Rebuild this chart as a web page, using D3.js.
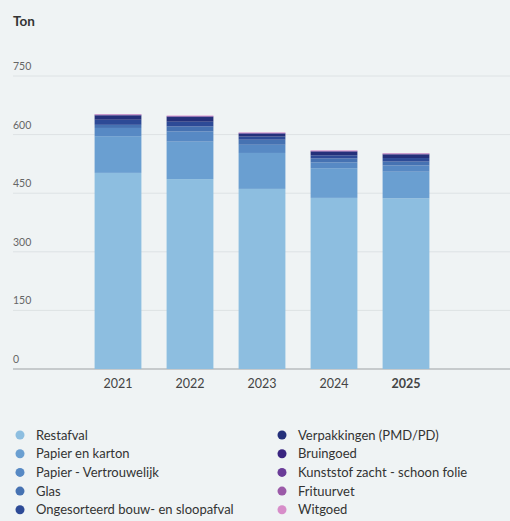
<!DOCTYPE html>
<html><head><meta charset="utf-8">
<script src="https://cdn.jsdelivr.net/npm/d3@7"></script>
<style>
html,body{margin:0;padding:0;background:#eff3f4;}
svg{display:block;font-family:Lato,"Noto Sans",sans-serif;}
</style></head>
<body><svg id="c" width="510" height="521"></svg>
<script>
const years = ["2021","2022","2023","2024","2025"];
const categories = ["Restafval","Papier en karton","Papier - Vertrouwelijk","Glas","Ongesorteerd bouw- en sloopafval","Verpakkingen (PMD/PD)","Bruingoed","Kunststof zacht - schoon folie","Frituurvet","Witgoed"];
const colors = ["#8dbee0","#6a9fd1","#5789c4","#4672b2","#2d4a96","#24307a","#3a2580","#6a3c98","#9b5aa8","#d78dc9"];
const restafval      = [502, 486, 461, 438, 437];
const papierKarton   = [ 94,  96,  92,  76,  68];
const vertrouwelijk  = [ 21,  26,  21,  15,  16];
const glas           = [  8,  13,  13,  10,  10];
const ongesorteerd   = [ 13,  12,   8,   8,   9];
const verpakkingen   = [ 11,  12,   7,   9,   9];
const bruingoed      = [  1,   1,   1,   1,   1];
const kunststof      = [  1,   1,   1,   1,   1];
const frituurvet     = [0.5, 0.5, 0.5, 0.5, 0.5];
const witgoed        = [1.2, 1.2, 1.2, 1.2, 1.2];
const yTicks = [0,150,300,450,600,750];
const seriesValues = [restafval,papierKarton,vertrouwelijk,glas,ongesorteerd,verpakkingen,bruingoed,kunststof,frituurvet,witgoed];

const svg = d3.select("#c");
const table = years.map((y,i)=>{const o={year:y}; categories.forEach((c,k)=>o[c]=seriesValues[k][i]); return o;});
const stack = d3.stack().keys(categories)(table);

const y = d3.scaleLinear().domain([0,750]).range([369,76]);
const x = d3.scaleBand().domain(years).range([82,442]).paddingInner(0.35).paddingOuter(0.175);

svg.append("text").attr("x",13).attr("y",26).attr("font-size",13.5).attr("font-weight",700).attr("fill","#333").text("Ton");

const grid = svg.append("g");
yTicks.forEach(t=>{
  grid.append("line").attr("x1",13).attr("x2",510).attr("y1",y(t)).attr("y2",y(t))
    .attr("stroke", t===0 ? "#b9bdbf" : "#dde2e4").attr("stroke-width", t===0?1.5:1);
  grid.append("text").attr("x",13).attr("y",y(t)-6).attr("font-size",10.5).attr("fill","#666").text(t);
});

svg.append("g").selectAll("g").data(stack).join("g").attr("fill",(d,i)=>colors[i])
  .selectAll("rect").data(d=>d).join("rect")
  .attr("x",d=>x(d.data.year)).attr("width",x.bandwidth())
  .attr("y",d=>y(d[1])).attr("height",d=>Math.max(0,y(d[0])-y(d[1])));

const xa = svg.append("g").attr("transform","translate(0,369)")
  .call(d3.axisBottom(x).tickSize(0).tickPadding(10));
xa.select(".domain").remove();
xa.selectAll("text").attr("font-size",12.5).attr("fill","#444").attr("font-family","Lato,'Noto Sans',sans-serif")
  .attr("font-weight",d=>d==="2025"?700:400);

const leg = svg.append("g");
categories.forEach((c,i)=>{
  const col = Math.floor(i/5), row = i%5;
  const lx = col===0 ? 20 : 282, ly = 435 + row*18.7;
  leg.append("circle").attr("cx",lx).attr("cy",ly).attr("r",4.5).attr("fill",colors[i]);
  leg.append("text").attr("x",lx+16).attr("y",ly+4.5).attr("font-size",13).attr("fill","#333").text(c);
});
</script></body></html>
